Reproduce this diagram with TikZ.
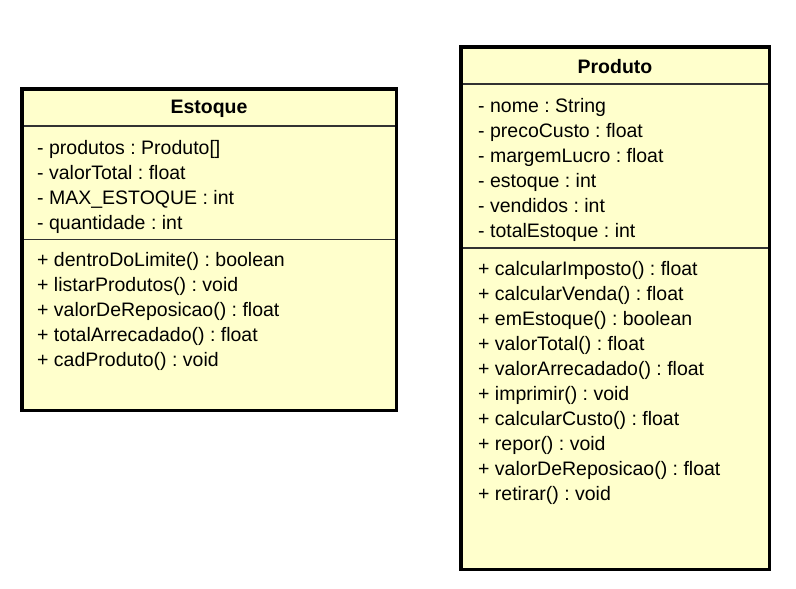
\documentclass[tikz,border=0pt]{standalone}
\usepackage{fontspec}
\setmainfont{Liberation Sans}
\usetikzlibrary{positioning}
\usepackage{xcolor}
\definecolor{umlyellow}{RGB}{255,255,204}
\definecolor{umlgray}{RGB}{50,50,50}
\frenchspacing

\begin{document}
\begin{tikzpicture}[x=1pt,y=-1pt,
	classbox/.style={fill=umlyellow,anchor=north west,inner sep=0pt},
	classframe/.style={draw=black,line width=3.2pt},
	ctitle/.style={inner sep=0pt,font=\fontsize{19.5}{22}\selectfont\bfseries},
	member/.style={anchor=base west,inner sep=0pt,font=\fontsize{19.5}{22}\selectfont},
	sepline/.style={draw=umlgray,line width=1.4pt}]
	\useasboundingbox (0,0) rectangle (796,589);

	% Estoque
	\node(estoque) at (22,89)[classbox,minimum width=374pt,minimum height=321pt]{};
	\node(estoqueT) at (209,108.5)[ctitle]{Estoque};
	\coordinate(estS1) at (22,126);
	\coordinate(estS2) at (22,239.5);
	\draw[sepline](estS1) -- (estS1 -| estoque.east);
	\draw[sepline](estS2) -- (estS2 -| estoque.east);
	\foreach \m [count=\i] in {- produtos : Produto[],- valorTotal : float,- MAX\_ESTOQUE : int,- quantidade : int}
		\node(estA\i) at (37,{129+25*\i})[member]{\m};
	\foreach \m [count=\i] in {+ dentroDoLimite() : boolean,+ listarProdutos() : void,+ valorDeReposicao() : float,+ totalArrecadado() : float,+ cadProduto() : void}
		\node(estM\i) at (37,{241+25*\i})[member]{\m};
	\draw[classframe](estoque.north west) rectangle (estoque.south east);

	% Produto
	\node(produto) at (461,47)[classbox,minimum width=308pt,minimum height=522pt]{};
	\node(produtoT) at (615,67)[ctitle]{Produto};
	\coordinate(proS1) at (461,84);
	\coordinate(proS2) at (461,248);
	\draw[sepline](proS1) -- (proS1 -| produto.east);
	\draw[sepline](proS2) -- (proS2 -| produto.east);
	\foreach \m [count=\i] in {- nome : String,- precoCusto : float,- margemLucro : float,- estoque : int,- vendidos : int,- totalEstoque : int}
		\node(proA\i) at (478,{87+25*\i})[member]{\m};
	\foreach \m [count=\i] in {+ calcularImposto() : float,+ calcularVenda() : float,+ emEstoque() : boolean,+ valorTotal() : float,+ valorArrecadado() : float,+ imprimir() : void,+ calcularCusto() : float,+ repor() : void,+ valorDeReposicao() : float,+ retirar() : void}
		\node(proM\i) at (478,{250+25*\i})[member]{\m};
	\draw[classframe](produto.north west) rectangle (produto.south east);
\end{tikzpicture}
\end{document}
